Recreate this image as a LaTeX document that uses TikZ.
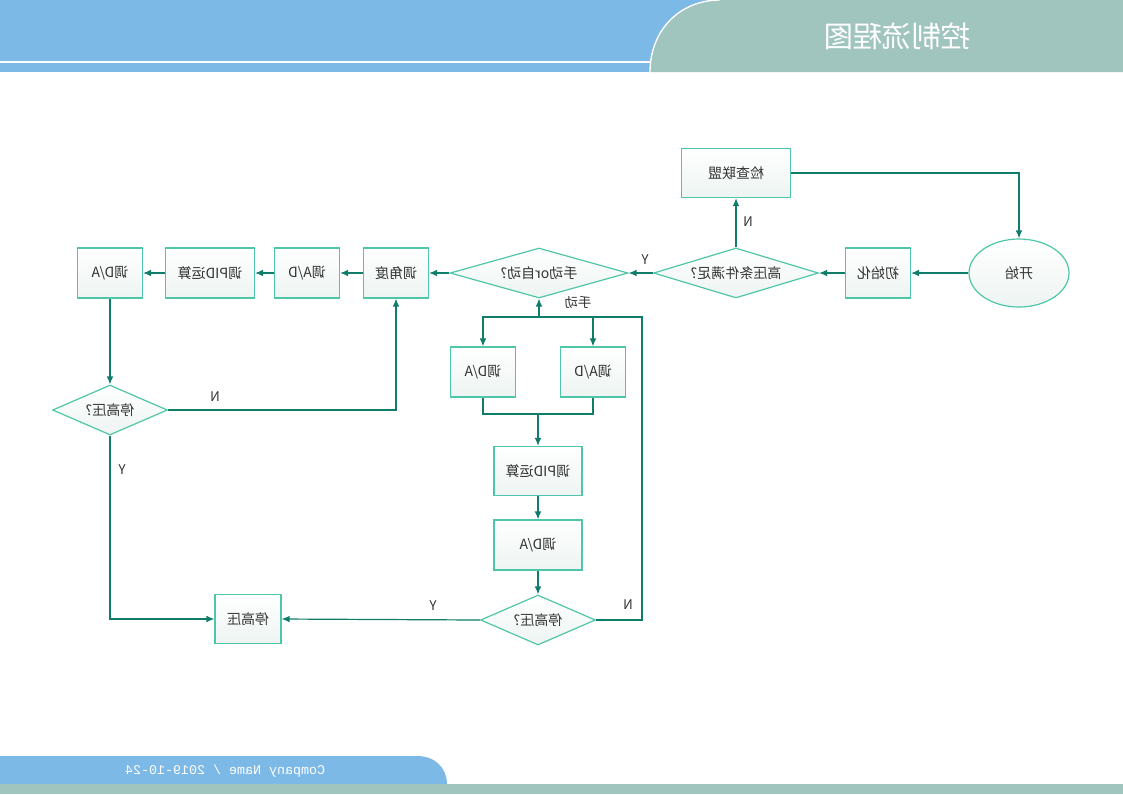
\documentclass[tikz,border=0pt]{standalone}
\usepackage{fontspec}
\setmainfont{Noto Sans CJK SC}
\newfontfamily\footfont{Liberation Mono}
\usetikzlibrary{shapes.geometric,arrows.meta}
\definecolor{bannerblue}{HTML}{7DB9E6}
\definecolor{bannergreen}{HTML}{A0C4BE}
\definecolor{flowline}{HTML}{107C6A}
\definecolor{boxedge}{HTML}{4EC6A7}
\definecolor{boxfill}{HTML}{EDF4F2}
\definecolor{txt}{HTML}{333333}
% the whole sheet is printed mirror-wise
\newcommand\mt[1]{\reflectbox{#1}}
\tikzset{
  box/.style={draw=boxedge, line width=0.9pt, top color=white, bottom color=boxfill,
    text=txt, font=\fontsize{10.5}{12}\selectfont, inner sep=0pt,
    minimum width=48.75pt, minimum height=37.5pt},
  dia/.style={box, diamond, aspect=3},
  arr/.style={draw=flowline, line width=0.9pt, -{Latex[length=6pt,width=5pt]}},
  ln/.style={draw=flowline, line width=0.9pt},
  lab/.style={text=txt, font=\fontsize{10}{12}\selectfont}
}
\begin{document}
\begin{tikzpicture}[x=0.75pt,y=-0.75pt]
  \useasboundingbox (0,0) rectangle (1123,794);
  % banner
  \fill[bannerblue] (0,0) rectangle (1123,72);
  \draw[white,line width=0.8pt] (0,62) -- (660,62);
  \fill[bannergreen] (650,72) .. controls (650,30) and (680,0) .. (720,0) -- (1123,0) -- (1123,72) -- cycle;
  \draw[white,line width=1pt] (650,72) .. controls (650,30) and (680,0) .. (720,0);
  \node[text=white, font=\fontsize{22}{26}\selectfont] (title) at (897,36) {\mt{控制流程图}};
  % footer
  \fill[bannerblue] (0,784) -- (0,756) -- (417,756) .. controls (435,756) and (447,768) .. (447,784) -- cycle;
  \fill[bannergreen] (0,784) rectangle (1123,794);
  \node[text=white, font=\footfont\fontsize{10}{12}\selectfont] (foot) at (225,771) {\mt{Company Name / 2019-10-24}};

  % top row
  \node[box, ellipse, minimum width=75pt, minimum height=51pt] (start) at (1019,273) {\mt{开始}};
  \node[box] (init) at (878,273) {\mt{初始化}};
  \node[dia, minimum width=123.75pt] (hv) at (736,273) {\mt{高压条件满足?}};
  \node[box, minimum width=81.75pt, minimum height=36.75pt] (chk) at (736,173) {\mt{检查联盟}};
  \node[dia, minimum width=133.5pt] (mode) at (539,273) {\mt{手动or自动?}};
  \node[box] (angle) at (396,273) {\mt{调角度}};
  \node[box] (adcL) at (307,273) {\mt{调A/D}};
  \node[box, minimum width=66.75pt] (pidL) at (210,273) {\mt{调PID运算}};
  \node[box] (dacL) at (110,273) {\mt{调D/A}};
  \node[dia, minimum width=86.25pt] (stopL) at (110,410) {\mt{停高压?}};
  \node[box, minimum width=49.5pt, minimum height=36.75pt] (stop) at (248,619) {\mt{停高压}};

  % manual branch
  \node[box] (dacM) at (483,372) {\mt{调D/A}};
  \node[box] (adcM) at (593,372) {\mt{调A/D}};
  \node[box, minimum width=66pt, minimum height=36.75pt] (pidM) at (538,471) {\mt{调PID运算}};
  \node[box, minimum width=66pt] (dacM2) at (538,545) {\mt{调D/A}};
  \node[dia, minimum width=86.25pt] (stopM) at (538,620) {\mt{停高压?}};

  \coordinate (loopR) at (642,317);
  \coordinate (join) at (538,414);

  % connectors
  \draw[arr] (chk.east) -| (start.north);
  \draw[arr] (start.west) -- (init.east);
  \draw[arr] (init.west) -- (hv.east);
  \draw[arr] (hv.north) -- (chk.south);
  \draw[arr] (hv.west) -- (mode.east);
  \draw[arr] (mode.west) -- (angle.east);
  \draw[arr] (angle.west) -- (adcL.east);
  \draw[arr] (adcL.west) -- (pidL.east);
  \draw[arr] (pidL.west) -- (dacL.east);
  \draw[arr] (dacL.south) -- (stopL.north);
  \draw[arr] (stopL.east) -| (angle.south);
  \draw[arr] (stopL.south) |- (stop.west);

  \draw[arr] (stopM.east) -| (loopR) -| (mode.south);
  \draw[arr] (loopR) -| (dacM.north);
  \draw[arr] (adcM.north |- loopR) -- (adcM.north);
  \draw[ln] (dacM.south) |- (join) -| (adcM.south);
  \draw[arr] (join) -- (pidM.north);
  \draw[arr] (pidM.south) -- (dacM2.north);
  \draw[arr] (dacM2.south) -- (stopM.north);
  \draw[arr] (stopM.west) -- (stop.east);

  % branch labels
  \node[lab] (nChk) at (748,222) {\mt{N}};
  \node[lab] (yMode) at (645,260) {\mt{Y}};
  \node[lab] (manual) at (578,302) {\mt{手动}};
  \node[lab] (nLoop) at (628,605) {\mt{N}};
  \node[lab] (yStopM) at (433,606) {\mt{Y}};
  \node[lab] (nStopL) at (215,397) {\mt{N}};
  \node[lab] (yStopL) at (122,470) {\mt{Y}};
\end{tikzpicture}
\end{document}
